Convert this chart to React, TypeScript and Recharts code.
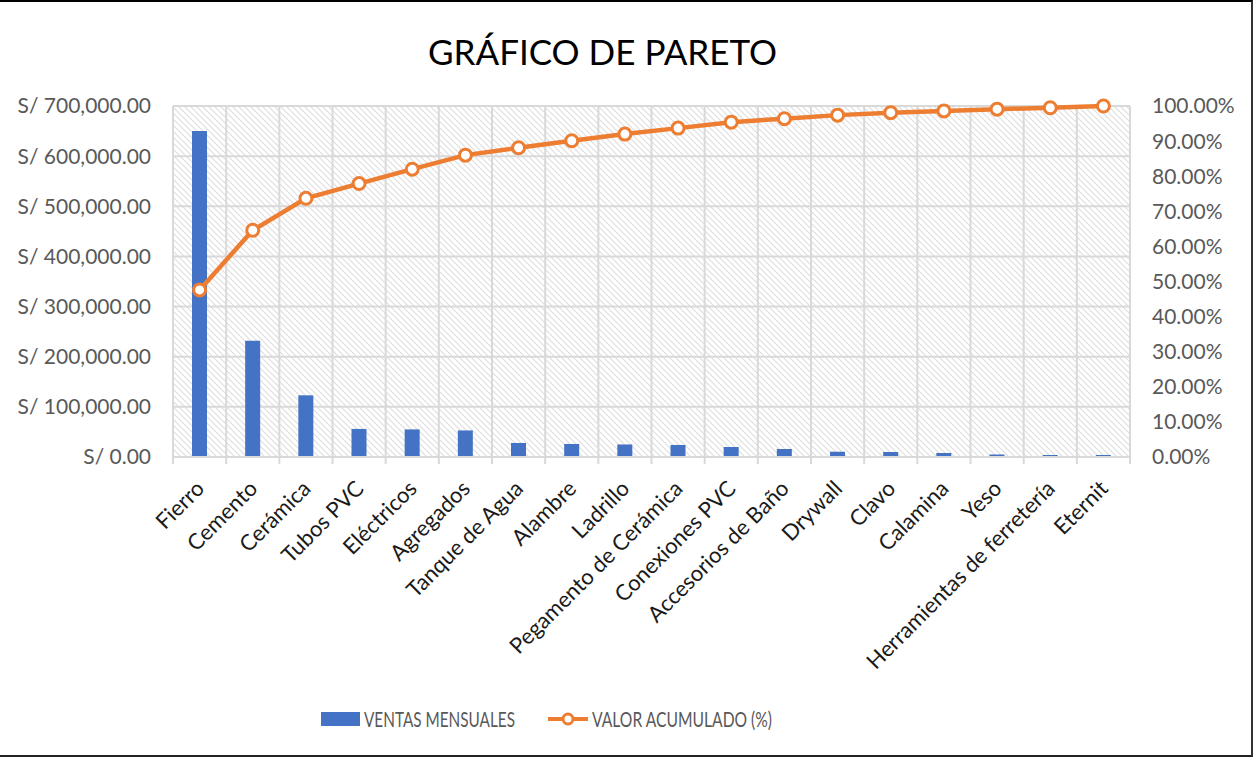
import React from 'react';
import { ComposedChart, Bar, Line, XAxis, YAxis, CartesianGrid, Legend } from 'recharts';

const categorias = [
  'Fierro', 'Cemento', 'Cerámica', 'Tubos PVC', 'Eléctricos', 'Agregados',
  'Tanque de Agua', 'Alambre', 'Ladrillo', 'Pegamento de Cerámica', 'Conexiones PVC',
  'Accesorios de Baño', 'Drywall', 'Clavo', 'Calamina', 'Yeso',
  'Herramientas de ferretería', 'Eternit',
];
const ventasMensuales = [
  650000, 232000, 123000, 56000, 55000, 53000, 28000, 26000, 25000,
  24000, 20000, 16000, 10500, 10000, 8000, 5000, 4000, 4000,
];
const valorAcumulado = [
  47.6, 64.6, 73.7, 77.9, 82.0, 86.0, 88.1, 90.1, 92.0,
  93.7, 95.4, 96.4, 97.4, 98.1, 98.6, 99.1, 99.5, 100,
];
const ticksSoles = [0, 100000, 200000, 300000, 400000, 500000, 600000, 700000];
const ticksPorcentaje = [0, 10, 20, 30, 40, 50, 60, 70, 80, 90, 100];

const data = categorias.map((name, i) => ({
  name,
  ventas: ventasMensuales[i],
  acumulado: valorAcumulado[i],
}));

const FONT = 'Lato, "Open Sans", sans-serif';
const TEXT = '#595959';
const BLUE = '#4472C4';
const ORANGE = '#ED7D31';
const GRID = '#d9d9d9';

const formatSoles = (v: number) =>
  `S/ ${v.toLocaleString('en-US', { minimumFractionDigits: 2, maximumFractionDigits: 2 })}`;
const formatPct = (v: number) => `${v.toFixed(2)}%`;

// rotated category label plus the small tick marks between categories
const CategoryTick = (props: any) => {
  const { x, y, payload, index, visibleTicksCount } = props;
  const half = payload && payload.offset ? payload.offset : 26.6;
  const tx = x + 6;
  const ty = y + 33;
  return (
    <g>
      <line x1={x - half} y1={y} x2={x - half} y2={y + 7} stroke={GRID} strokeWidth={2} />
      {index === visibleTicksCount - 1 && (
        <line x1={x + half} y1={y} x2={x + half} y2={y + 7} stroke={GRID} strokeWidth={2} />
      )}
      <text
        x={tx}
        y={ty}
        textAnchor="end"
        transform={`rotate(-45, ${tx}, ${ty})`}
        fill="#1a1a1a"
        fontSize={22}
        fontFamily={FONT}
      >
        {payload.value}
      </text>
    </g>
  );
};

// legend drawn in svg so the narrow Excel-like text widths can be kept
const LegendContent = () => (
  <svg width={1253} height={40} style={{ display: 'block' }}>
    <rect x={321} y={15} width={39} height={14} fill={BLUE} />
    <text
      x={364}
      y={29.5}
      fontFamily={FONT}
      fontSize={21}
      fill={TEXT}
      textLength={151}
      lengthAdjust="spacingAndGlyphs"
    >
      VENTAS MENSUALES
    </text>
    <line x1={548} y1={22} x2={588} y2={22} stroke={ORANGE} strokeWidth={4} />
    <circle cx={568} cy={22} r={5} fill="#fff" stroke={ORANGE} strokeWidth={3} />
    <text
      x={592}
      y={29.5}
      fontFamily={FONT}
      fontSize={21}
      fill={TEXT}
      textLength={180}
      lengthAdjust="spacingAndGlyphs"
    >
      VALOR ACUMULADO (%)
    </text>
  </svg>
);

export default function App() {
  const n = categorias.length;
  return (
    <div style={{ position: 'absolute', left: 0, top: 0, width: 1253, height: 757, background: '#fff' }}>
      <div
        style={{
          position: 'absolute',
          left: 0,
          top: 30,
          width: 1205,
          textAlign: 'center',
          fontFamily: FONT,
          fontSize: 35,
          lineHeight: '42px',
          color: '#000',
        }}
      >
        GRÁFICO DE PARETO
      </div>
      <ComposedChart
        width={1253}
        height={757}
        data={data}
        margin={{ top: 106, right: 0, bottom: 20, left: 0 }}
      >
        <defs>
          <pattern id="hatch" patternUnits="userSpaceOnUse" width={6} height={6}>
            <rect width={6} height={6} fill="#fff" />
            <path d="M-1,-1 L7,7 M-1,5 L1,7 M5,-1 L7,1" stroke="#dedede" strokeWidth={1.1} />
          </pattern>
        </defs>
        <CartesianGrid
          yAxisId="left"
          fill="url(#hatch)"
          fillOpacity={1}
          stroke={GRID}
          strokeWidth={2}
          verticalCoordinatesGenerator={({ offset }: any) =>
            Array.from({ length: n + 1 }, (_, i) => offset.left + (i * offset.width) / n)
          }
        />
        <XAxis
          dataKey="name"
          interval={0}
          height={240}
          tickSize={0}
          tickMargin={0}
          tickLine={false}
          axisLine={{ stroke: GRID, strokeWidth: 2 }}
          tick={<CategoryTick />}
        />
        <YAxis
          yAxisId="left"
          domain={[0, 700000]}
          ticks={ticksSoles}
          width={173}
          axisLine={false}
          tickLine={false}
          tickSize={0}
          tickMargin={22}
          tickFormatter={formatSoles}
          tick={{ fill: TEXT, fontSize: 21, fontFamily: FONT }}
        />
        <YAxis
          yAxisId="right"
          orientation="right"
          domain={[0, 100]}
          ticks={ticksPorcentaje}
          width={123}
          axisLine={false}
          tickLine={false}
          tickSize={0}
          tickMargin={22}
          tickFormatter={formatPct}
          tick={{ fill: TEXT, fontSize: 21, fontFamily: FONT }}
        />
        <Legend verticalAlign="bottom" content={<LegendContent />} />
        <Bar yAxisId="left" dataKey="ventas" fill={BLUE} barSize={15} isAnimationActive={false} />
        <Line
          yAxisId="right"
          type="linear"
          dataKey="acumulado"
          stroke={ORANGE}
          strokeWidth={4.5}
          dot={{ r: 6, fill: '#fff', stroke: ORANGE, strokeWidth: 3 }}
          activeDot={false}
          isAnimationActive={false}
        />
      </ComposedChart>
      <div
        style={{
          position: 'absolute',
          left: 0,
          top: 0,
          width: 1253,
          height: 757,
          boxSizing: 'border-box',
          borderTop: '2px solid #000',
          borderBottom: '2px solid #222',
          borderRight: '2px solid #333',
          pointerEvents: 'none',
        }}
      />
    </div>
  );
}
